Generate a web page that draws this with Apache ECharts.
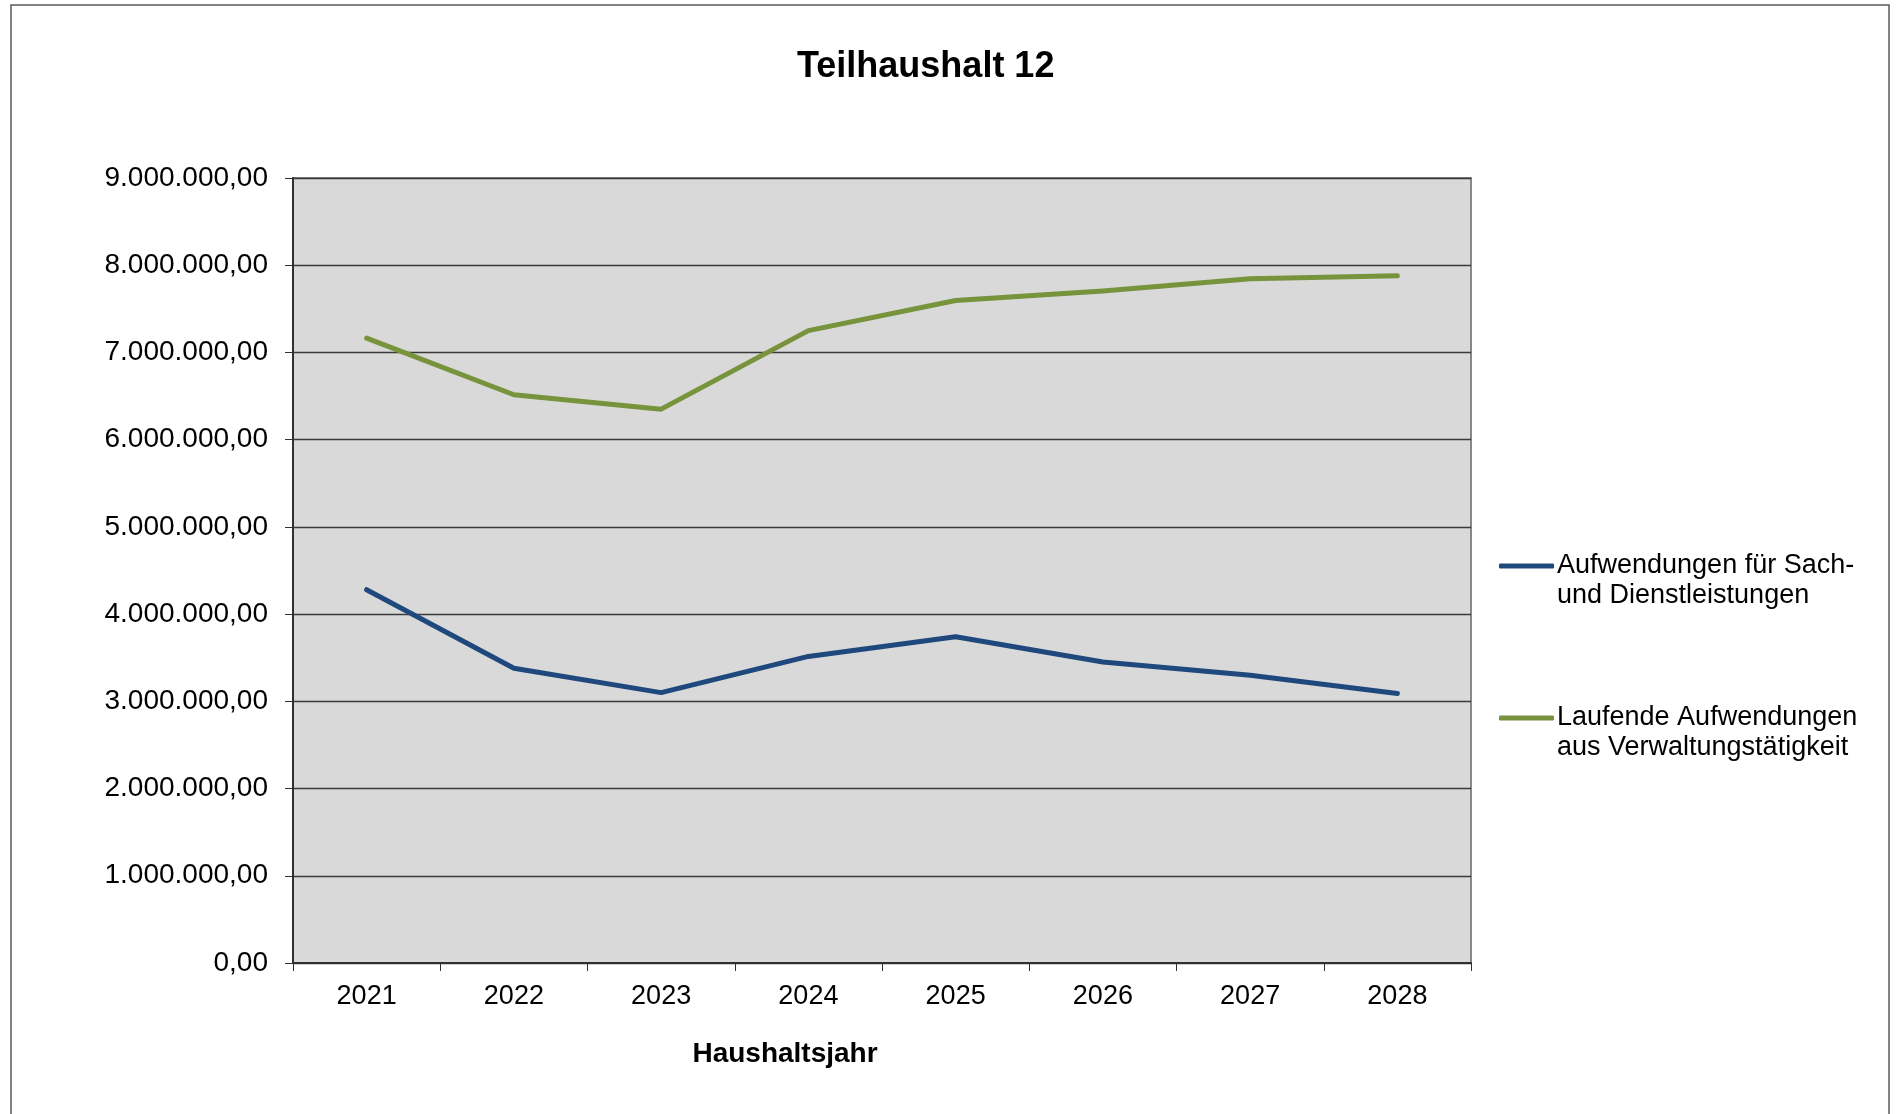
<!DOCTYPE html>
<html>
<head>
<meta charset="utf-8">
<title>Teilhaushalt 12</title>
<script src="https://cdn.jsdelivr.net/npm/echarts@6/dist/echarts.min.js"></script>
<style>
  html, body { margin: 0; padding: 0; background: #fff; }
  #chart { width: 1899px; height: 1114px; }
</style>
</head>
<body>
<div id="chart"></div>
<script>
const years = ['2021', '2022', '2023', '2024', '2025', '2026', '2027', '2028']
const sachDienst = [4280000, 3380000, 3100000, 3515000, 3740000, 3450000, 3300000, 3090000]
const laufend = [7165000, 6515000, 6350000, 7250000, 7595000, 7705000, 7845000, 7880000]
const seriesNames = ['Aufwendungen für Sach-\nund Dienstleistungen', 'Laufende Aufwendungen\naus Verwaltungstätigkeit']
const colors = ['#1f497d', '#77933c']

const fontFamily = 'Liberation Sans, Arial, sans-serif'

// 9000000 -> 9.000.000,00
const formatDe = (value) => {
  const parts = Math.round(value).toString().replace(/\B(?=(\d{3})+(?!\d))/g, '.')
  return parts + ',00'
}

const chart = echarts.init(document.getElementById('chart'))

chart.setOption({
  animation: false,
  backgroundColor: '#ffffff',
  textStyle: { fontFamily },
  title: {
    text: 'Teilhaushalt 12',
    left: 792,
    top: 44,
    textStyle: { fontFamily, fontSize: 36, fontWeight: 'bold', color: '#000' },
  },
  graphic: [
    {
      type: 'rect',
      shape: { x: 11, y: 5, width: 1878, height: 1200 },
      style: { fill: 'none', stroke: '#5a5a5a', lineWidth: 1.5 },
      silent: true,
    },
  ],
  legend: {
    orient: 'vertical',
    left: 1494,
    top: 516,
    icon: 'roundRect',
    itemWidth: 55,
    itemHeight: 5,
    itemGap: 62,
    // leerzeile davor, damit die Linie auf Höhe der ersten Textzeile sitzt
    formatter: (name) => '\n' + name,
    textStyle: { fontFamily, fontSize: 27, lineHeight: 30, color: '#000', padding: [0, 0, 0, -2] },
    data: seriesNames,
  },
  grid: {
    left: 293,
    right: 428,
    top: 178,
    bottom: 151,
    show: true,
    backgroundColor: '#d9d9d9',
    borderColor: '#888888',
    borderWidth: 2,
  },
  xAxis: {
    type: 'category',
    data: years,
    boundaryGap: true,
    name: 'Haushaltsjahr',
    nameLocation: 'middle',
    nameGap: 77,
    nameTextStyle: {
      fontFamily,
      fontSize: 28,
      fontWeight: 'bold',
      color: '#000',
      padding: [0, 194, 0, 0],
    },
    axisLine: { lineStyle: { color: '#303030', width: 2 } },
    axisTick: { show: true, length: 8, lineStyle: { color: '#303030', width: 1 } },
    axisLabel: { fontFamily, fontSize: 27, color: '#000', margin: 20 },
    splitLine: { show: false },
  },
  yAxis: {
    type: 'value',
    min: 0,
    max: 9000000,
    interval: 1000000,
    axisLine: { show: true, lineStyle: { color: '#303030', width: 2 } },
    axisTick: { show: true, length: 8, lineStyle: { color: '#303030', width: 1 } },
    axisLabel: {
      fontFamily,
      fontSize: 28,
      color: '#000',
      margin: 25,
      padding: [4, 0, 0, 0],
      formatter: formatDe,
    },
    splitLine: { show: true, lineStyle: { color: '#3a3a3a', width: 1.4 } },
  },
  series: [
    {
      name: seriesNames[0],
      type: 'line',
      data: sachDienst,
      symbol: 'none',
      lineStyle: { color: colors[0], width: 5, cap: 'round', join: 'round' },
      itemStyle: { color: colors[0] },
    },
    {
      name: seriesNames[1],
      type: 'line',
      data: laufend,
      symbol: 'none',
      lineStyle: { color: colors[1], width: 5, cap: 'round', join: 'round' },
      itemStyle: { color: colors[1] },
    },
  ],
})
</script>
</body>
</html>
